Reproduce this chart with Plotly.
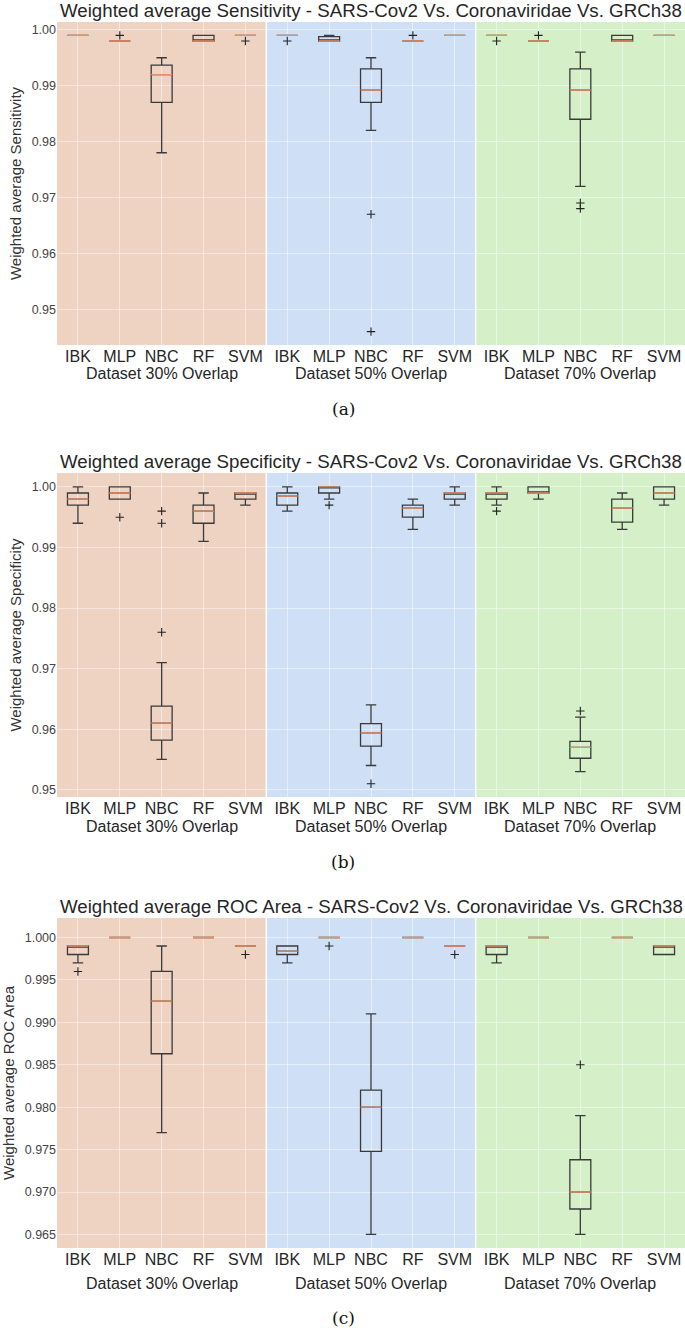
import plotly.graph_objects as go

W, H = 685, 1328

categories = ["IBK", "MLP", "NBC", "RF", "SVM"]
groups = ["Dataset 30% Overlap", "Dataset 50% Overlap", "Dataset 70% Overlap"]

titles = [
    "Weighted average Sensitivity - SARS-Cov2 Vs. Coronaviridae Vs. GRCh38",
    "Weighted average Specificity - SARS-Cov2 Vs. Coronaviridae Vs. GRCh38",
    "Weighted average ROC Area - SARS-Cov2 Vs. Coronaviridae Vs. GRCh38",
]
ytitles = ["Weighted average Sensitivity", "Weighted average Specificity", "Weighted average ROC Area"]
captions = ["(a)", "(b)", "(c)"]

# ---- Sensitivity (30% IBK..SVM, 50% IBK..SVM, 70% IBK..SVM)
sens_low = [0.999, 0.998, 0.978, 0.998, 0.999, 0.999, 0.998, 0.982, 0.998, 0.999, 0.999, 0.998, 0.972, 0.998, 0.999]
sens_q1 = [0.999, 0.998, 0.987, 0.998, 0.999, 0.999, 0.998, 0.987, 0.998, 0.999, 0.999, 0.998, 0.984, 0.998, 0.999]
sens_med = [0.999, 0.998, 0.992, 0.998, 0.999, 0.999, 0.998, 0.9892, 0.998, 0.999, 0.999, 0.998, 0.9892, 0.998, 0.999]
sens_q3 = [0.999, 0.998, 0.9937, 0.999, 0.999, 0.999, 0.9988, 0.993, 0.998, 0.999, 0.999, 0.998, 0.993, 0.999, 0.999]
sens_high = [0.999, 0.998, 0.995, 0.999, 0.999, 0.999, 0.999, 0.995, 0.998, 0.999, 0.999, 0.998, 0.996, 0.999, 0.999]
sens_out_idx = [1, 4, 5, 7, 7, 8, 10, 11, 12, 12]
sens_out_val = [0.999, 0.998, 0.998, 0.967, 0.946, 0.999, 0.998, 0.999, 0.969, 0.968]

# ---- Specificity
spec_low = [0.994, 0.998, 0.955, 0.991, 0.997, 0.996, 0.998, 0.954, 0.993, 0.997, 0.997, 0.998, 0.953, 0.993, 0.997]
spec_q1 = [0.997, 0.998, 0.9582, 0.994, 0.998, 0.997, 0.999, 0.9572, 0.995, 0.998, 0.998, 0.999, 0.9552, 0.9942, 0.998]
spec_med = [0.998, 0.999, 0.961, 0.996, 0.999, 0.9985, 1.000, 0.9594, 0.9965, 0.999, 0.999, 0.999, 0.957, 0.9965, 0.999]
spec_q3 = [0.999, 1.000, 0.9638, 0.997, 0.999, 0.999, 1.000, 0.9609, 0.997, 0.999, 0.999, 1.000, 0.958, 0.998, 1.000]
spec_high = [1.000, 1.000, 0.971, 0.999, 0.999, 1.000, 1.000, 0.964, 0.998, 1.000, 1.000, 1.000, 0.962, 0.999, 1.000]
spec_out_idx = [1, 2, 2, 2, 6, 7, 10, 12]
spec_out_val = [0.995, 0.976, 0.994, 0.996, 0.997, 0.951, 0.996, 0.963]

# ---- ROC Area
roc_low = [0.997, 1.000, 0.977, 1.000, 0.999, 0.997, 1.000, 0.965, 1.000, 0.999, 0.997, 1.000, 0.965, 1.000, 0.998]
roc_q1 = [0.998, 1.000, 0.9863, 1.000, 0.999, 0.998, 1.000, 0.9748, 1.000, 0.999, 0.998, 1.000, 0.968, 1.000, 0.998]
roc_med = [0.999, 1.000, 0.9925, 1.000, 0.999, 0.9984, 1.000, 0.980, 1.000, 0.999, 0.999, 1.000, 0.970, 1.000, 0.999]
roc_q3 = [0.999, 1.000, 0.996, 1.000, 0.999, 0.999, 1.000, 0.982, 1.000, 0.999, 0.999, 1.000, 0.9738, 1.000, 0.999]
roc_high = [0.999, 1.000, 0.999, 1.000, 0.999, 0.999, 1.000, 0.991, 1.000, 0.999, 0.999, 1.000, 0.979, 1.000, 0.999]
roc_out_idx = [0, 4, 6, 9, 12]
roc_out_val = [0.996, 0.998, 0.999, 0.998, 0.985]

panels = [
    dict(low=sens_low, q1=sens_q1, med=sens_med, q3=sens_q3, high=sens_high,
         oi=sens_out_idx, ov=sens_out_val),
    dict(low=spec_low, q1=spec_q1, med=spec_med, q3=spec_q3, high=spec_high,
         oi=spec_out_idx, ov=spec_out_val),
    dict(low=roc_low, q1=roc_q1, med=roc_med, q3=roc_q3, high=roc_high,
         oi=roc_out_idx, ov=roc_out_val),
]

# layout (window pixels)
plot_px = [(22, 345), (473, 797), (918, 1248)]
title_px = [11, 461, 906]
group_px = [373, 826, 1283]
caption_px = [409, 862, 1318]
y_ranges = [[0.9436, 1.0014], [0.9488, 1.0023], [0.9634, 1.0023]]
y_ticks = [[0.95, 0.96, 0.97, 0.98, 0.99, 1.00],
           [0.95, 0.96, 0.97, 0.98, 0.99, 1.00],
           [0.965, 0.970, 0.975, 0.980, 0.985, 0.990, 0.995, 1.000]]
y_fmt = [".2f", ".2f", ".3f"]
x0_pix, x1_pix = 57, 685
caption_x_pix = 343

region_colors = ["#EED2C2", "#CFE0F6", "#D5F0C8"]
box_color = "#3a3a3a"
median_color = "#EA9066"


def py(p):
    return min(1.0, max(0.0, 1 - p / H))


def px(p):
    return min(1.0, max(0.0, p / W))


n = len(categories) * len(groups)
xs = list(range(n))
fig = go.Figure()
shapes = []
annotations = []

for k, pan in enumerate(panels):
    xa = "x" if k == 0 else f"x{k + 1}"
    ya = "y" if k == 0 else f"y{k + 1}"
    fig.add_trace(go.Box(
        x=xs, q1=pan["q1"], median=pan["med"], q3=pan["q3"],
        lowerfence=pan["low"], upperfence=pan["high"],
        width=0.5, whiskerwidth=0.5, boxpoints=False,
        line=dict(color=box_color, width=1.3), fillcolor="rgba(0,0,0,0)",
        xaxis=xa, yaxis=ya, showlegend=False, hoverinfo="skip"))
    # orange median lines
    fig.add_trace(go.Box(
        x=xs, q1=pan["med"], median=pan["med"], q3=pan["med"],
        lowerfence=pan["med"], upperfence=pan["med"],
        width=0.5, whiskerwidth=0, boxpoints=False,
        line=dict(color=median_color, width=1.3), fillcolor="rgba(0,0,0,0)",
        xaxis=xa, yaxis=ya, showlegend=False, hoverinfo="skip"))
    fig.add_trace(go.Scatter(
        x=pan["oi"], y=pan["ov"], mode="markers",
        marker=dict(symbol="cross-thin", size=6, line=dict(color="#222222", width=1.1)),
        xaxis=xa, yaxis=ya, showlegend=False, hoverinfo="skip"))

    top, bot = plot_px[k]
    xkey = "xaxis" if k == 0 else f"xaxis{k + 1}"
    ykey = "yaxis" if k == 0 else f"yaxis{k + 1}"
    fig.update_layout({
        xkey: dict(domain=[px(x0_pix), px(x1_pix)], range=[-0.5, n - 0.5], anchor=ya,
                   tickmode="array", tickvals=xs,
                   ticktext=categories * len(groups),
                   showgrid=True, gridcolor="rgba(255,255,255,0.45)", gridwidth=1,
                   zeroline=False, showline=False, ticks="",
                   tickfont=dict(family="Liberation Sans", size=16, color="#262626")),
        ykey: dict(domain=[py(bot), py(top)], range=y_ranges[k], anchor=xa,
                   tickmode="array", tickvals=y_ticks[k],
                   ticktext=[format(v, y_fmt[k]) for v in y_ticks[k]],
                   showgrid=True, gridcolor="rgba(255,255,255,0.45)", gridwidth=1,
                   zeroline=False, showline=False, ticks="",
                   tickfont=dict(family="Liberation Sans", size=12.5, color="#444444"),
                   title=dict(text=ytitles[k], standoff=6,
                              font=dict(family="Liberation Sans", size=15, color="#333333"))),
    })

    for g in range(len(groups)):
        shapes.append(dict(type="rect", xref=xa, yref=f"{ya} domain",
                           x0=g * 5 - 0.5, x1=g * 5 + 4.5, y0=0, y1=1,
                           fillcolor=region_colors[g], line=dict(width=0), layer="below"))
        annotations.append(dict(x=g * 5 + 2, y=py(group_px[k]), xref=xa, yref="paper",
                                text=groups[g], showarrow=False, yanchor="middle",
                                font=dict(family="Liberation Sans", size=16, color="#262626")))
    for g in range(1, len(groups)):
        shapes.append(dict(type="line", xref=xa, yref=f"{ya} domain",
                           x0=g * 5 - 0.5, x1=g * 5 - 0.5, y0=0, y1=1,
                           line=dict(color="white", width=1.5), layer="below"))

    annotations.append(dict(x=(px(x0_pix) + px(x1_pix)) / 2, y=py(title_px[k]), xref="paper", yref="paper",
                            text=titles[k], showarrow=False, yanchor="middle", borderpad=0,
                            font=dict(family="Liberation Sans", size=18.7, color="#262626")))
    annotations.append(dict(x=px(caption_x_pix), y=py(caption_px[k]), xref="paper", yref="paper",
                            text=captions[k], showarrow=False, yanchor="middle",
                            font=dict(family="DejaVu Serif", size=17, color="#111111")))

fig.update_layout(width=W, height=H, margin=dict(l=0, r=0, t=0, b=0),
                  paper_bgcolor="white", plot_bgcolor="#EAEAF2",
                  shapes=shapes, annotations=annotations, showlegend=False)

# remove the default page margin so the figure sits at the window's top-left corner
fig.write_html("out.html", config={"displayModeBar": False},
               post_script="document.body.style.margin='0px';document.body.style.overflow='hidden';")
